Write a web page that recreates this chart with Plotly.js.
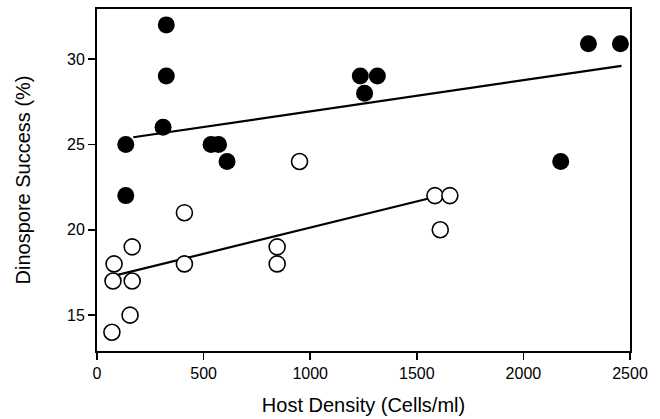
<!DOCTYPE html>
<html>
<head>
<meta charset="utf-8">
<script src="https://cdn.plot.ly/plotly-3.0.1.min.js"></script>
<style>html,body{margin:0;padding:0;background:#fff;}#chart{width:660px;height:419px;}</style>
</head>
<body>
<div id="chart"></div>
<script>
// Filled circles series
var filledX = [325, 325, 310, 135, 535, 570, 610, 135, 1235, 1255, 1315, 2305, 2455, 2175];
var filledY = [32, 29, 26, 25, 25, 25, 24, 22, 29, 28, 29, 30.9, 30.9, 24];
// Open circles series
var openX = [950, 410, 165, 80, 75, 165, 410, 845, 845, 155, 70, 1585, 1655, 1610];
var openY = [24, 21, 19, 18, 17, 17, 18, 19, 18, 15, 14, 22, 22, 20];
// Regression line endpoints
var fitFilledX = [170, 2460];
var fitFilledY = [25.42, 29.6];
var fitOpenX = [92, 1656];
var fitOpenY = [17.34, 22.14];
var xTicks = [0, 500, 1000, 1500, 2000, 2500];
var yTicks = [15, 20, 25, 30];

var traces = [
  {x: fitFilledX, y: fitFilledY, mode: 'lines', line: {color: '#000', width: 2.2}, hoverinfo: 'skip'},
  {x: fitOpenX, y: fitOpenY, mode: 'lines', line: {color: '#000', width: 2.2}, hoverinfo: 'skip'},
  {x: filledX, y: filledY, mode: 'markers', marker: {size: 17, color: '#000', line: {color: '#000', width: 0}}},
  {x: openX, y: openY, mode: 'markers', marker: {size: 16, color: '#fff', line: {color: '#000', width: 1.6}}}
];

var font = {family: 'Liberation Sans, Arial, sans-serif', color: '#000'};
var layout = {
  width: 660, height: 419,
  margin: {l: 97, r: 30, t: 9, b: 68},
  paper_bgcolor: '#fff', plot_bgcolor: '#fff',
  showlegend: false,
  font: font,
  xaxis: {
    range: [0, 2500], tickvals: xTicks, ticktext: xTicks.map(String),
    ticks: 'outside', ticklen: 7, tickwidth: 1.5, tickcolor: '#000',
    showline: true, linecolor: '#000', linewidth: 2, mirror: true,
    showgrid: false, zeroline: false,
    tickfont: {family: font.family, size: 16, color: '#000'},
    title: {text: 'Host Density (Cells/ml)', font: {family: font.family, size: 20, color: '#000'}, standoff: 17}
  },
  yaxis: {
    range: [12.9, 32.93], tickvals: yTicks, ticktext: yTicks.map(String),
    ticks: 'outside', ticklen: 7, tickwidth: 1.5, tickcolor: '#000',
    showline: true, linecolor: '#000', linewidth: 2, mirror: true,
    showgrid: false, zeroline: false,
    tickfont: {family: font.family, size: 16, color: '#000'},
    title: {text: 'Dinospore Success (%)', font: {family: font.family, size: 20, color: '#000'}, standoff: 31}
  }
};
Plotly.newPlot('chart', traces, layout, {displayModeBar: false, staticPlot: true});
</script>
</body>
</html>
